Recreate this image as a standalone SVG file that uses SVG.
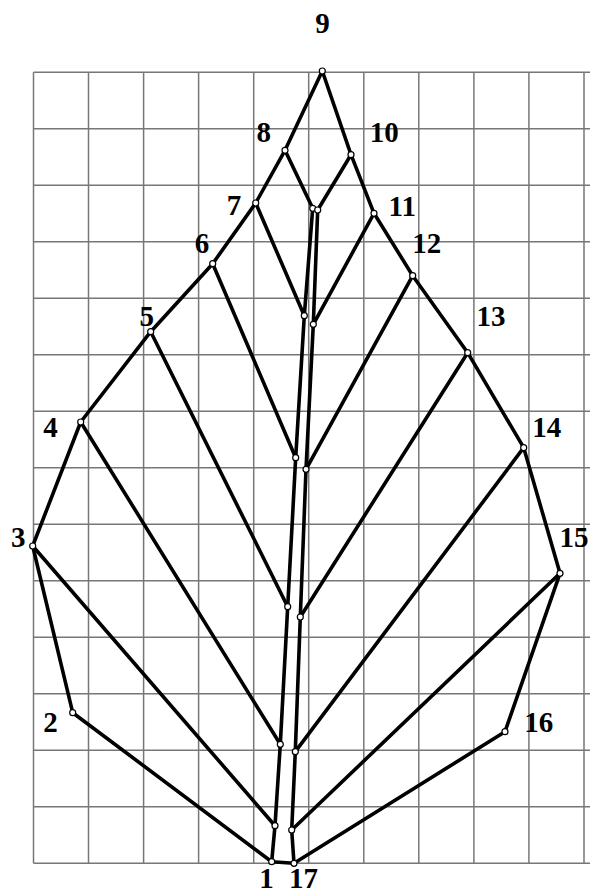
<svg xmlns="http://www.w3.org/2000/svg" width="590" height="894" viewBox="0 0 590 894">
<style>
.grid line{stroke:#777;stroke-width:1.5}
.edge{stroke:#000;stroke-width:3.6;fill:none;stroke-linejoin:round;stroke-linecap:round}
.pt{fill:#fff;stroke:#000;stroke-width:1.2}
.lbl{font-family:"Liberation Serif","Times New Roman",serif;font-weight:bold;font-size:29px;fill:#000;text-anchor:middle}
</style>
<rect width="590" height="894" fill="#fff"/>
<g class="grid" id="grid">
<line x1="33.5" y1="72.3" x2="33.5" y2="863.3"/>
<line x1="88.5" y1="72.3" x2="88.5" y2="863.3"/>
<line x1="143.6" y1="72.3" x2="143.6" y2="863.3"/>
<line x1="198.6" y1="72.3" x2="198.6" y2="863.3"/>
<line x1="253.7" y1="72.3" x2="253.7" y2="863.3"/>
<line x1="308.7" y1="72.3" x2="308.7" y2="863.3"/>
<line x1="363.8" y1="72.3" x2="363.8" y2="863.3"/>
<line x1="418.8" y1="72.3" x2="418.8" y2="863.3"/>
<line x1="473.9" y1="72.3" x2="473.9" y2="863.3"/>
<line x1="528.9" y1="72.3" x2="528.9" y2="863.3"/>
<line x1="584" y1="72.3" x2="584" y2="863.3"/>
<line x1="33.5" y1="72.3" x2="590" y2="72.3"/>
<line x1="33.5" y1="128.8" x2="590" y2="128.8"/>
<line x1="33.5" y1="185.3" x2="590" y2="185.3"/>
<line x1="33.5" y1="241.8" x2="590" y2="241.8"/>
<line x1="33.5" y1="298.3" x2="590" y2="298.3"/>
<line x1="33.5" y1="354.8" x2="590" y2="354.8"/>
<line x1="33.5" y1="411.3" x2="590" y2="411.3"/>
<line x1="33.5" y1="467.8" x2="590" y2="467.8"/>
<line x1="33.5" y1="524.3" x2="590" y2="524.3"/>
<line x1="33.5" y1="580.8" x2="590" y2="580.8"/>
<line x1="33.5" y1="637.3" x2="590" y2="637.3"/>
<line x1="33.5" y1="693.8" x2="590" y2="693.8"/>
<line x1="33.5" y1="750.3" x2="590" y2="750.3"/>
<line x1="33.5" y1="806.8" x2="590" y2="806.8"/>
<line x1="33.5" y1="863.3" x2="590" y2="863.3"/>
</g>
<g id="connectors">
<polyline class="edge" points="271.7,861.7 72.7,712.7 32.7,546 80.7,422 150.7,331.7 212.7,263.7 255.7,203 285,150.3 322.3,71 351,154.7 374,213.3 412.7,275.7 467.7,352.7 523.7,447.7 560,573.3 505,731.7 294,863.3 271.7,861.7"/>
<polyline class="edge" points="271.7,861.7 275,825.7 280.3,744.3 287.7,606.7 295.7,457.7 304.3,315.7 312.7,208.3"/>
<polyline class="edge" points="294,863.3 291.7,830 295.3,751.7 300.3,617 306,469.3 313.3,324.3 317.7,210"/>
<line class="edge" x1="32.7" y1="546" x2="275" y2="825.7"/>
<line class="edge" x1="80.7" y1="422" x2="280.3" y2="744.3"/>
<line class="edge" x1="150.7" y1="331.7" x2="287.7" y2="606.7"/>
<line class="edge" x1="212.7" y1="263.7" x2="295.7" y2="457.7"/>
<line class="edge" x1="255.7" y1="203" x2="304.3" y2="315.7"/>
<line class="edge" x1="285" y1="150.3" x2="312.7" y2="208.3"/>
<line class="edge" x1="351" y1="154.7" x2="317.7" y2="210"/>
<line class="edge" x1="374" y1="213.3" x2="313.3" y2="324.3"/>
<line class="edge" x1="412.7" y1="275.7" x2="306" y2="469.3"/>
<line class="edge" x1="467.7" y1="352.7" x2="300.3" y2="617"/>
<line class="edge" x1="523.7" y1="447.7" x2="295.3" y2="751.7"/>
<line class="edge" x1="560" y1="573.3" x2="291.7" y2="830"/>
</g>
<g id="inner-points">
<circle class="pt" cx="275" cy="825.7" r="3"/>
<circle class="pt" cx="280.3" cy="744.3" r="3"/>
<circle class="pt" cx="287.7" cy="606.7" r="3"/>
<circle class="pt" cx="295.7" cy="457.7" r="3"/>
<circle class="pt" cx="304.3" cy="315.7" r="3"/>
<circle class="pt" cx="312.7" cy="208.3" r="3"/>
<circle class="pt" cx="291.7" cy="830" r="3"/>
<circle class="pt" cx="295.3" cy="751.7" r="3"/>
<circle class="pt" cx="300.3" cy="617" r="3"/>
<circle class="pt" cx="306" cy="469.3" r="3"/>
<circle class="pt" cx="313.3" cy="324.3" r="3"/>
<circle class="pt" cx="317.7" cy="210" r="3"/>
</g>
<g id="n1"><circle class="pt" cx="271.7" cy="861.7" r="3"/><text class="lbl" x="266.5" y="888">1</text></g>
<g id="n2"><circle class="pt" cx="72.7" cy="712.7" r="3"/><text class="lbl" x="50.5" y="731.7">2</text></g>
<g id="n3"><circle class="pt" cx="32.7" cy="546" r="3"/><text class="lbl" x="18.3" y="546.7">3</text></g>
<g id="n4"><circle class="pt" cx="80.7" cy="422" r="3"/><text class="lbl" x="50.5" y="436.7">4</text></g>
<g id="n5"><circle class="pt" cx="150.7" cy="331.7" r="3"/><text class="lbl" x="146.7" y="326">5</text></g>
<g id="n6"><circle class="pt" cx="212.7" cy="263.7" r="3"/><text class="lbl" x="202" y="252.7">6</text></g>
<g id="n7"><circle class="pt" cx="255.7" cy="203" r="3"/><text class="lbl" x="234" y="215">7</text></g>
<g id="n8"><circle class="pt" cx="285" cy="150.3" r="3"/><text class="lbl" x="263.8" y="141.7">8</text></g>
<g id="n9"><circle class="pt" cx="322.3" cy="71" r="3"/><text class="lbl" x="322.5" y="32.5">9</text></g>
<g id="n10"><circle class="pt" cx="351" cy="154.7" r="3"/><text class="lbl" x="384.3" y="141.5">10</text></g>
<g id="n11"><circle class="pt" cx="374" cy="213.3" r="3"/><text class="lbl" x="402.3" y="215.5">11</text></g>
<g id="n12"><circle class="pt" cx="412.7" cy="275.7" r="3"/><text class="lbl" x="426.7" y="252.7">12</text></g>
<g id="n13"><circle class="pt" cx="467.7" cy="352.7" r="3"/><text class="lbl" x="491" y="326">13</text></g>
<g id="n14"><circle class="pt" cx="523.7" cy="447.7" r="3"/><text class="lbl" x="546.7" y="437.3">14</text></g>
<g id="n15"><circle class="pt" cx="560" cy="573.3" r="3"/><text class="lbl" x="574" y="546.7">15</text></g>
<g id="n16"><circle class="pt" cx="505" cy="731.7" r="3"/><text class="lbl" x="538.7" y="731.7">16</text></g>
<g id="n17"><circle class="pt" cx="294" cy="863.3" r="3"/><text class="lbl" x="303.5" y="888">17</text></g>
</svg>
